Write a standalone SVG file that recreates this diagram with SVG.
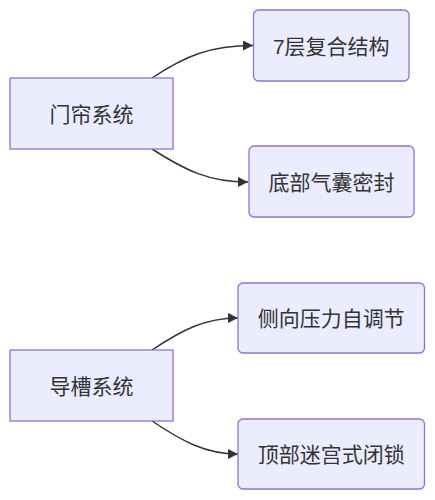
<svg xmlns="http://www.w3.org/2000/svg" width="435" height="500" viewBox="0 0 435 500">
<style>
.n rect{fill:#ECECFF;stroke:#9370DB;stroke-width:1.3px}
.n text{font-family:"trebuchet ms","Liberation Sans","Noto Sans CJK SC",sans-serif;font-size:21px;fill:#333;text-anchor:middle;dominant-baseline:central}
.e path{fill:none;stroke:#333;stroke-width:1.5px}
</style>
<defs>
<marker id="arr" viewBox="0 0 10 10" refX="10" refY="5" markerUnits="userSpaceOnUse" markerWidth="10" markerHeight="10" orient="auto">
<path d="M0,0 L10,5 L0,10 z" fill="#333"/>
</marker>
</defs>
<rect width="435" height="500" fill="#fff"/>
<g class="e">
<path d="M152,78 C185,56 210,45.5 253,45.5" marker-end="url(#arr)"/>
<path d="M152,149 C185,170 208,182 248,182" marker-end="url(#arr)"/>
<path d="M152,350 C182,330 205,318 238,318" marker-end="url(#arr)"/>
<path d="M152,421 C182,441 205,454 238,454" marker-end="url(#arr)"/>
</g>
<g id="n1" class="n"><rect x="10" y="78" width="163" height="71"/><text x="91.5" y="114">门帘系统</text></g>
<g id="n2" class="n"><rect x="253.5" y="10" width="155.5" height="71" rx="5" ry="5"/><text x="331.25" y="46">7层复合结构</text></g>
<g id="n3" class="n"><rect x="249" y="146" width="165" height="71" rx="5" ry="5"/><text x="331.5" y="182">底部气囊密封</text></g>
<g id="n4" class="n"><rect x="10" y="350" width="163" height="71"/><text x="91.5" y="386">导槽系统</text></g>
<g id="n5" class="n"><rect x="238" y="283" width="186.5" height="70" rx="5" ry="5"/><text x="331.25" y="318.5">侧向压力自调节</text></g>
<g id="n6" class="n"><rect x="238" y="419" width="186.5" height="70" rx="5" ry="5"/><text x="331.25" y="454.5">顶部迷宫式闭锁</text></g>
</svg>
